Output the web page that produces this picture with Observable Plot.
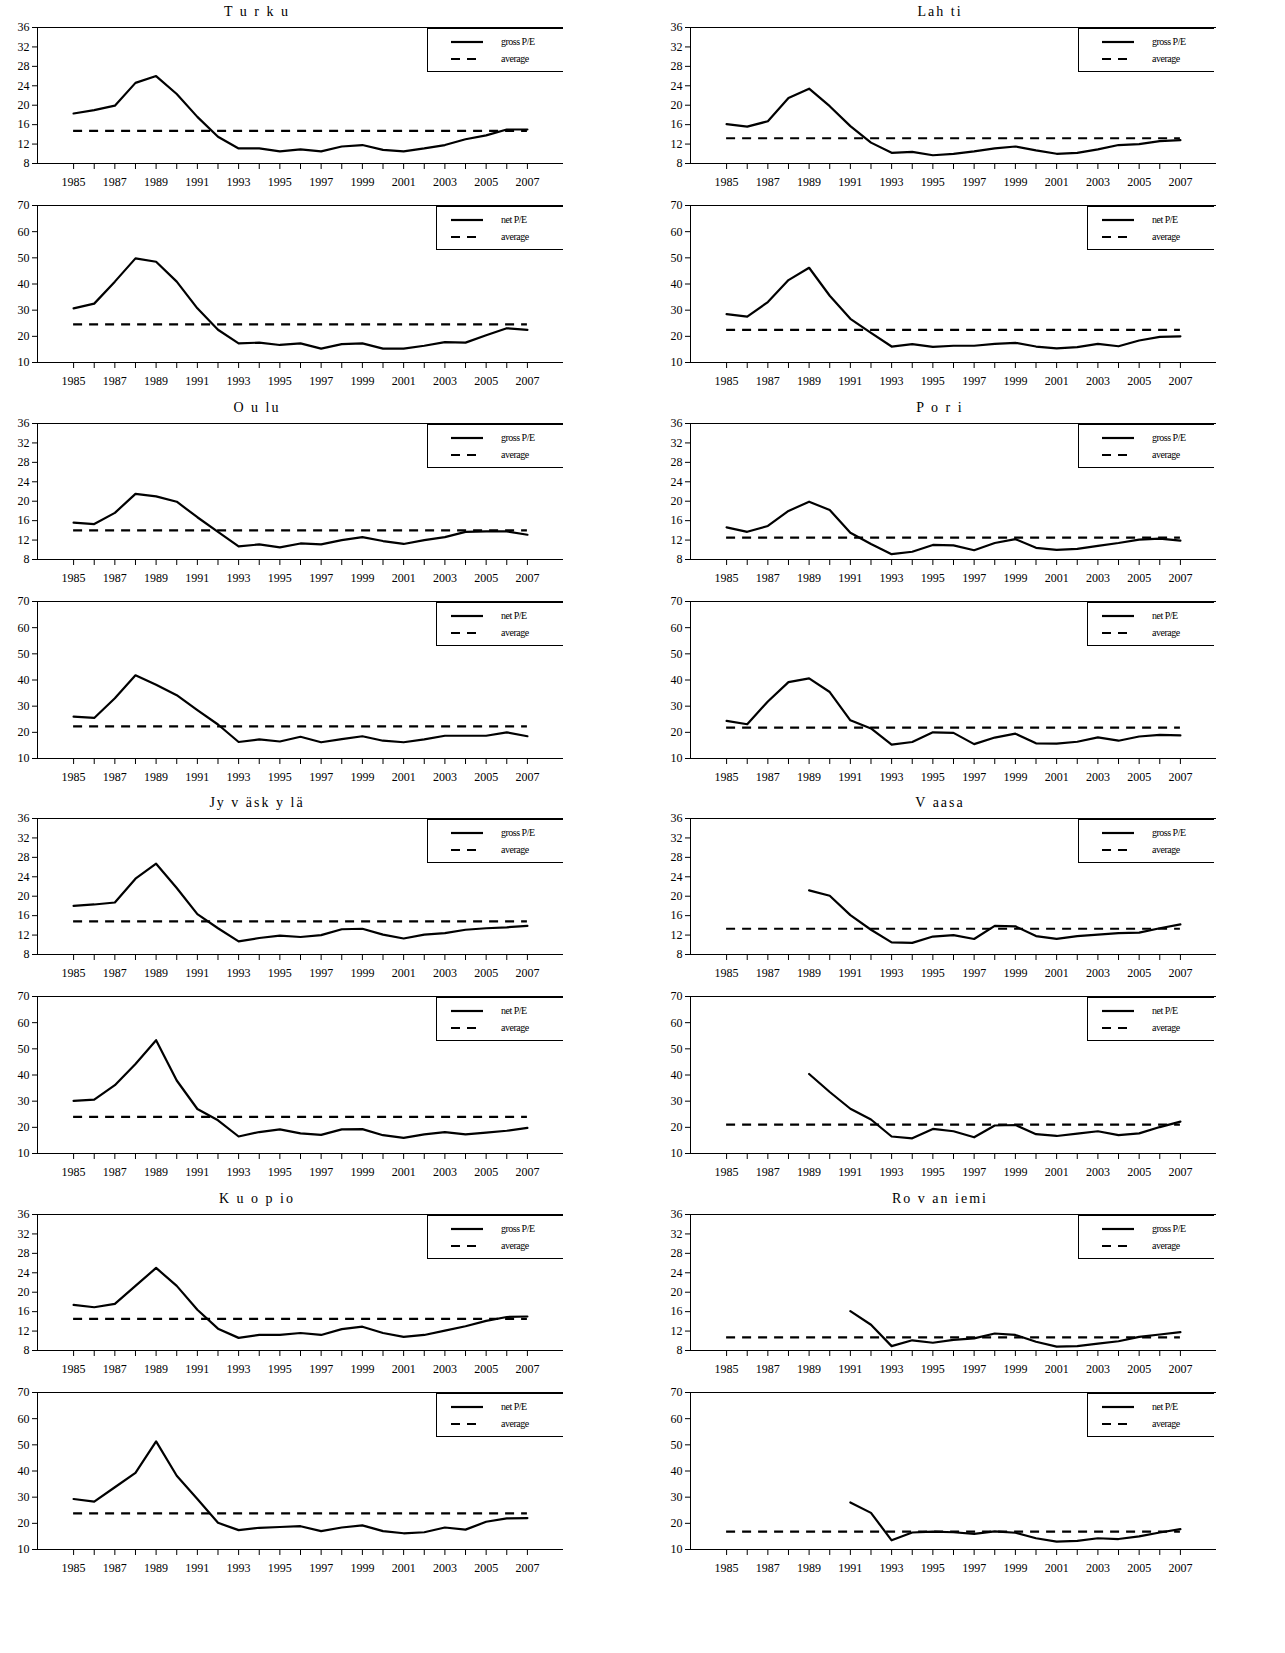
<!DOCTYPE html>
<html>
<head>
<meta charset="utf-8">
<script src="https://cdn.jsdelivr.net/npm/d3@7"></script>
<script src="https://cdn.jsdelivr.net/npm/@observablehq/plot@0.6"></script>
<style>
  body { margin: 0; background: #fff; font-family: "Liberation Serif", serif; }
  #root { position: relative; width: 1285px; height: 1653px; }
  .title { position: absolute; font-size: 14px; letter-spacing: 2px; transform: translateX(-50%); white-space: nowrap; }
  .legend { position: absolute; border: 1px solid #000; border-right: none; background: #fff; }
  .legend svg { position: absolute; }
  svg.plot { position: absolute; }
</style>
</head>
<body>
<div id="root"></div>
<script>
// P/E ratios by city, 1985-2007 (null = no data)
const years = d3.range(1985, 2008);
const cities = ["Turku", "Lahti", "Oulu", "Pori", "Jyväskylä", "Vaasa", "Kuopio", "Rovaniemi"];
const titles = ["T u r k u", "Lah ti", "O u lu", "P o r i", "Jy v äsk y lä", "V aasa", "K u o p io", "Ro v an iemi"];

const turkuGross = [18.3, 19.0, 19.9, 24.6, 26.0, 22.3, 17.6, 13.5, 11.1, 11.1, 10.5, 10.9, 10.5, 11.5, 11.8, 10.8, 10.5, 11.1, 11.8, 13.0, 13.8, 15.0, 15.0];
const turkuNet = [30.7, 32.5, 40.9, 49.8, 48.5, 40.9, 30.7, 22.5, 17.3, 17.6, 16.7, 17.3, 15.3, 17.0, 17.3, 15.3, 15.3, 16.4, 17.8, 17.6, 20.4, 23.1, 22.5];
const lahtiGross = [16.1, 15.6, 16.7, 21.5, 23.4, 19.8, 15.7, 12.3, 10.2, 10.4, 9.7, 10.0, 10.5, 11.1, 11.5, 10.7, 10.0, 10.2, 10.9, 11.8, 12.0, 12.6, 12.8];
const lahtiNet = [28.5, 27.5, 33.1, 41.5, 46.2, 35.5, 26.7, 21.3, 16.1, 17.0, 16.0, 16.4, 16.4, 17.1, 17.5, 16.1, 15.4, 15.9, 17.1, 16.2, 18.4, 19.8, 20.0];
const ouluGross = [15.6, 15.3, 17.6, 21.5, 21.0, 19.9, 16.7, 13.7, 10.7, 11.1, 10.5, 11.3, 11.1, 12.0, 12.6, 11.8, 11.2, 12.0, 12.6, 13.7, 13.8, 13.8, 13.1];
const ouluNet = [26.0, 25.5, 33.0, 41.8, 38.2, 34.2, 28.5, 23.0, 16.3, 17.3, 16.5, 18.3, 16.2, 17.4, 18.5, 16.8, 16.2, 17.3, 18.7, 18.7, 18.7, 20.0, 18.5];
const poriGross = [14.6, 13.7, 14.9, 18.0, 19.9, 18.2, 13.5, 11.2, 9.1, 9.6, 11.0, 10.9, 9.9, 11.4, 12.2, 10.4, 10.0, 10.2, 10.8, 11.4, 12.1, 12.3, 11.9];
const poriNet = [24.4, 23.1, 31.8, 39.2, 40.6, 35.4, 24.6, 21.5, 15.3, 16.3, 20.0, 19.8, 15.5, 18.0, 19.5, 15.8, 15.7, 16.4, 18.1, 16.8, 18.4, 19.0, 18.8];
const jyvGross = [18.0, 18.3, 18.7, 23.6, 26.7, 21.7, 16.3, 13.4, 10.7, 11.4, 11.9, 11.6, 12.0, 13.2, 13.3, 12.1, 11.3, 12.1, 12.4, 13.1, 13.4, 13.6, 13.9];
const jyvNet = [30.1, 30.6, 36.1, 44.2, 53.3, 37.9, 27.0, 22.7, 16.5, 18.2, 19.2, 17.7, 17.1, 19.2, 19.3, 17.0, 16.0, 17.3, 18.2, 17.3, 18.0, 18.7, 19.8];
const vaasaGross = [null, null, null, null, 21.2, 20.1, 16.1, 13.1, 10.5, 10.4, 11.7, 12.0, 11.2, 13.9, 13.8, 11.8, 11.2, 11.8, 12.1, 12.4, 12.5, 13.4, 14.2];
const vaasaNet = [null, null, null, null, 40.4, 33.5, 27.1, 23.0, 16.5, 15.8, 19.4, 18.5, 16.2, 20.7, 20.9, 17.4, 16.7, 17.6, 18.5, 17.0, 17.7, 20.1, 22.2];
const kuopioGross = [17.4, 16.9, 17.6, 21.3, 25.0, 21.3, 16.4, 12.5, 10.6, 11.2, 11.2, 11.6, 11.2, 12.4, 12.9, 11.6, 10.8, 11.2, 12.1, 13.0, 14.1, 14.9, 15.0];
const kuopioNet = [29.3, 28.3, 33.8, 39.3, 51.3, 38.2, 29.3, 20.2, 17.4, 18.3, 18.6, 18.9, 17.0, 18.4, 19.2, 17.0, 16.2, 16.6, 18.4, 17.6, 20.6, 21.9, 22.0];
const rovaGross = [null, null, null, null, null, null, 16.1, 13.3, 8.9, 10.1, 9.6, 10.2, 10.5, 11.5, 11.2, 9.8, 8.8, 8.9, 9.4, 9.9, 10.8, 11.3, 11.8];
const rovaNet = [null, null, null, null, null, null, 28.0, 24.0, 13.5, 16.5, 16.8, 16.6, 16.0, 16.9, 16.4, 14.3, 13.0, 13.3, 14.3, 14.0, 15.0, 16.5, 17.8];

const grossSeries = [turkuGross, lahtiGross, ouluGross, poriGross, jyvGross, vaasaGross, kuopioGross, rovaGross];
const netSeries = [turkuNet, lahtiNet, ouluNet, poriNet, jyvNet, vaasaNet, kuopioNet, rovaNet];
const grossAvg = [14.7, 13.2, 14.0, 12.5, 14.8, 13.3, 14.5, 10.7];
const netAvg = [24.6, 22.5, 22.3, 21.8, 24.0, 21.0, 23.8, 16.8];

const grossTicks = d3.range(8, 37, 4);
const netTicks = d3.range(10, 71, 10);
const xDomain = [1983.25, 2008.75];

const root = document.getElementById("root");

function panel(values, avg, yDomain, yTicks, plotH) {
  const data = years.map((y, i) => ({ year: y, v: values[i] }));
  return Plot.plot({
    width: 580,
    height: 7 + plotH + 30,
    marginLeft: 37,
    marginRight: 17,
    marginTop: 7,
    marginBottom: 30,
    style: { fontFamily: "Liberation Serif, serif", fontSize: "12px", color: "#000", overflow: "visible" },
    x: { domain: xDomain, label: null },
    y: { domain: yDomain, label: null },
    marks: [
      Plot.ruleY([yDomain[0], yDomain[1]], { stroke: "#000", strokeWidth: 1 }),
      Plot.ruleX([xDomain[0]], { stroke: "#000", strokeWidth: 1 }),
      Plot.ruleY([avg], { x1: years[0], x2: years[years.length - 1], stroke: "#000", strokeWidth: 2.2, strokeDasharray: "9 7" }),
      Plot.line(data, { x: "year", y: "v", stroke: "#000", strokeWidth: 2.2, defined: d => d.v != null }),
      Plot.axisX({ ticks: years, tickSize: 6, tickPadding: 8, tickFormat: d => d % 2 === 1 ? String(d) : "" }),
      Plot.axisY({ ticks: yTicks, tickSize: 5, tickPadding: 3 }),
    ],
  });
}

function legend(left, top, width, label) {
  const el = document.createElement("div");
  el.className = "legend";
  Object.assign(el.style, { left: left + "px", top: top + "px", width: width + "px", height: "42px" });
  el.innerHTML = `
    <svg width="${width}" height="42">
      <line x1="${width - 112}" x2="${width - 80}" y1="13" y2="13" stroke="#000" stroke-width="2.2"/>
      <line x1="${width - 112}" x2="${width - 80}" y1="30" y2="30" stroke="#000" stroke-width="2.2" stroke-dasharray="9 7"/>
      <text x="${width - 62}" y="16" font-size="10" letter-spacing="-0.5" font-family="Liberation Serif">${label}</text>
      <text x="${width - 62}" y="33" font-size="10" letter-spacing="-0.5" font-family="Liberation Serif">average</text>
    </svg>`;
  root.appendChild(el);
}

cities.forEach((city, i) => {
  const r = Math.floor(i / 2), c = i % 2;
  const left = c * 653;
  const rowTop = r * 395.6;

  const t = document.createElement("div");
  t.className = "title";
  t.textContent = titles[i];
  Object.assign(t.style, { left: (left + (c ? 287 : 257)) + "px", top: (rowTop + 4) + "px" });
  root.appendChild(t);

  const g = panel(grossSeries[i], grossAvg[i], [8, 36], grossTicks, 136);
  g.classList.add("plot");
  Object.assign(g.style, { left: left + "px", top: (rowTop + 20) + "px" });
  root.appendChild(g);

  const n = panel(netSeries[i], netAvg[i], [10, 70], netTicks, 157);
  n.classList.add("plot");
  Object.assign(n.style, { left: left + "px", top: (rowTop + 198) + "px" });
  root.appendChild(n);

  legend(left + 427 - (c ? 2 : 0), rowTop + 28, 135, "gross P/E");
  legend(left + 436 - (c ? 2 : 0), rowTop + 206, 126, "net P/E");
});
</script>
</body>
</html>
